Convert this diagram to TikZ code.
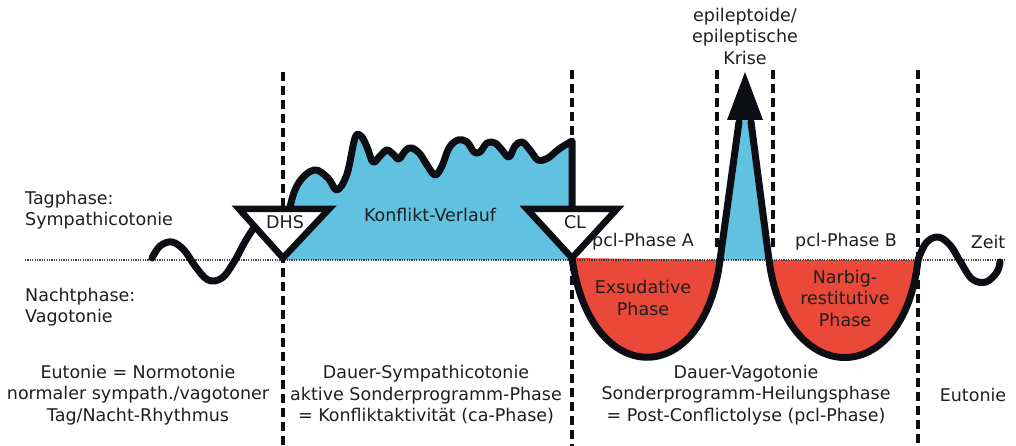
\documentclass[tikz,border=0pt]{standalone}
\usepackage{fontspec}
\setmainfont{DejaVu Sans}
\usetikzlibrary{positioning}
\definecolor{konfliktblau}{RGB}{96,194,224}
\definecolor{heilrot}{RGB}{234,72,56}
\definecolor{kurve}{RGB}{12,14,20}
\definecolor{schrift}{RGB}{30,30,30}
\tikzset{
  txt/.style={text=schrift, font=\fontsize{17.5}{21.5}\selectfont, inner sep=0pt, align=center},
  kurvenlinie/.style={draw=kurve, line width=7pt, line join=round, line cap=round},
  trenner/.style={draw=kurve, line width=3.2pt, dash pattern=on 9pt off 5pt},
  nulllinie/.style={draw=kurve!80, line width=1.4pt, dash pattern=on 1.2pt off 1.2pt},
  dreieck/.style={draw=kurve, fill=white, line width=6.5pt, line join=miter}
}
\begin{document}
\begin{tikzpicture}[x=1pt,y=-1pt]
        \useasboundingbox (0,0) rectangle (1016,446);

        % flaechen
        \fill[konfliktblau] (283,260) -- plot[smooth, tension=0.6] coordinates {(283,258) (289,212) (298,184) (314,170) (328,178) (337,190) (347,174) (355,138) (361,136) (367,147) (373,162) (380,156) (387,150) (394,155) (399,159) (406,150) (412,148) (420,154) (427,165) (435,175) (442,166) (449,148) (458,140) (467,142) (474,152) (480,152) (487,143) (495,143) (502,150) (509,157) (515,146) (522,142) (530,150) (538,160) (548,158) (559,149) (572,141)} -- (572,260) -- cycle;
        \fill[heilrot] (572,258) .. controls (590,390) and (704,390) .. (720,260) -- cycle;
        \fill[heilrot] (770,260) .. controls (786,390) and (904,390) .. (918,260) -- cycle;
        \fill[konfliktblau] (720,260) -- (739,120) -- (751,120) -- (769,260) -- cycle;

        % nulllinie
        \draw[nulllinie] (25,260) -- (1005,260);

        % trennlinien
        \draw[trenner] (283,72) -- (283,446);
        \draw[trenner] (572,70) -- (572,140);
        \draw[trenner] (572,262) -- (572,446);
        \draw[trenner] (717,70) -- (717,250);
        \draw[trenner] (773,70) -- (773,250);
        \draw[trenner] (918,70) -- (918,446);

        % kurve
        \draw[kurvenlinie] plot[smooth, tension=0.6] coordinates {(152,258) (160,246) (172,242) (184,250) (195,266) (208,280) (222,278) (234,262) (246,240) (258,222) (268,212)};
        \draw[kurvenlinie] plot[smooth, tension=0.6] coordinates {(283,258) (289,212) (298,184) (314,170) (328,178) (337,190) (347,174) (355,138) (361,136) (367,147) (373,162) (380,156) (387,150) (394,155) (399,159) (406,150) (412,148) (420,154) (427,165) (435,175) (442,166) (449,148) (458,140) (467,142) (474,152) (480,152) (487,143) (495,143) (502,150) (509,157) (515,146) (522,142) (530,150) (538,160) (548,158) (559,149) (572,141)} -- (572,210);
        \draw[kurvenlinie] (572,258) .. controls (590,390) and (704,390) .. (720,260) -- (739,122);
        \draw[kurvenlinie] (751,122) -- (769,260) .. controls (786,390) and (904,390) .. (918,260);
        \draw[kurvenlinie] plot[smooth, tension=0.6] coordinates {(918,260) (926,243) (938,237) (950,245) (960,261) (972,279) (986,282) (997,272) (1000,262)};
        \fill[kurve] (727,120) -- (745,72) -- (763,120) -- cycle;

        % dreiecke
        \draw[dreieck] (239,209) -- (329,209) -- (283,258) -- cycle;
        \draw[dreieck] (527,209) -- (617,209) -- (572,258) -- cycle;
        \node (dhs) [txt] at (285,222) {DHS};
        \node (cl) [txt] at (575,222) {CL};

        % beschriftung
        \node (tag) [txt, anchor=west, align=left] at (25,210) {Tagphase:\\Sympathicotonie};
        \node (nacht) [txt, anchor=west, align=left] at (25,307) {Nachtphase:\\Vagotonie};
        \node (verlauf) [txt] at (430,215) {Konflikt-Verlauf};
        \node (phaseA) [txt] at (643,242) {pcl-Phase A};
        \node (phaseB) [txt] at (846,242) {pcl-Phase B};
        \node (zeit) [txt] at (988,242) {Zeit};
        \node (exsudativ) [txt] at (643,298) {Exsudative\\Phase};
        \node (narbig) [txt] at (845,298) {Narbig-\\restitutive\\Phase};
        \node (krise) [txt] at (745,36) {epileptoide/\\epileptische\\Krise};

        % spalten unten
        \node (eutonie) [txt] at (138,395) {Eutonie = Normotonie\\normaler sympath./vagotoner\\Tag/Nacht-Rhythmus};
        \node (sympath) [txt] at (426,395) {Dauer-Sympathicotonie\\aktive Sonderprogramm-Phase\\= Konfliktaktivität (ca-Phase)};
        \node (vago) [txt] at (746,395) {Dauer-Vagotonie\\Sonderprogramm-Heilungsphase\\= Post-Conflictolyse (pcl-Phase)};
        \node (eutonie2) [txt] at (973,395) {Eutonie};
\end{tikzpicture}
\end{document}
